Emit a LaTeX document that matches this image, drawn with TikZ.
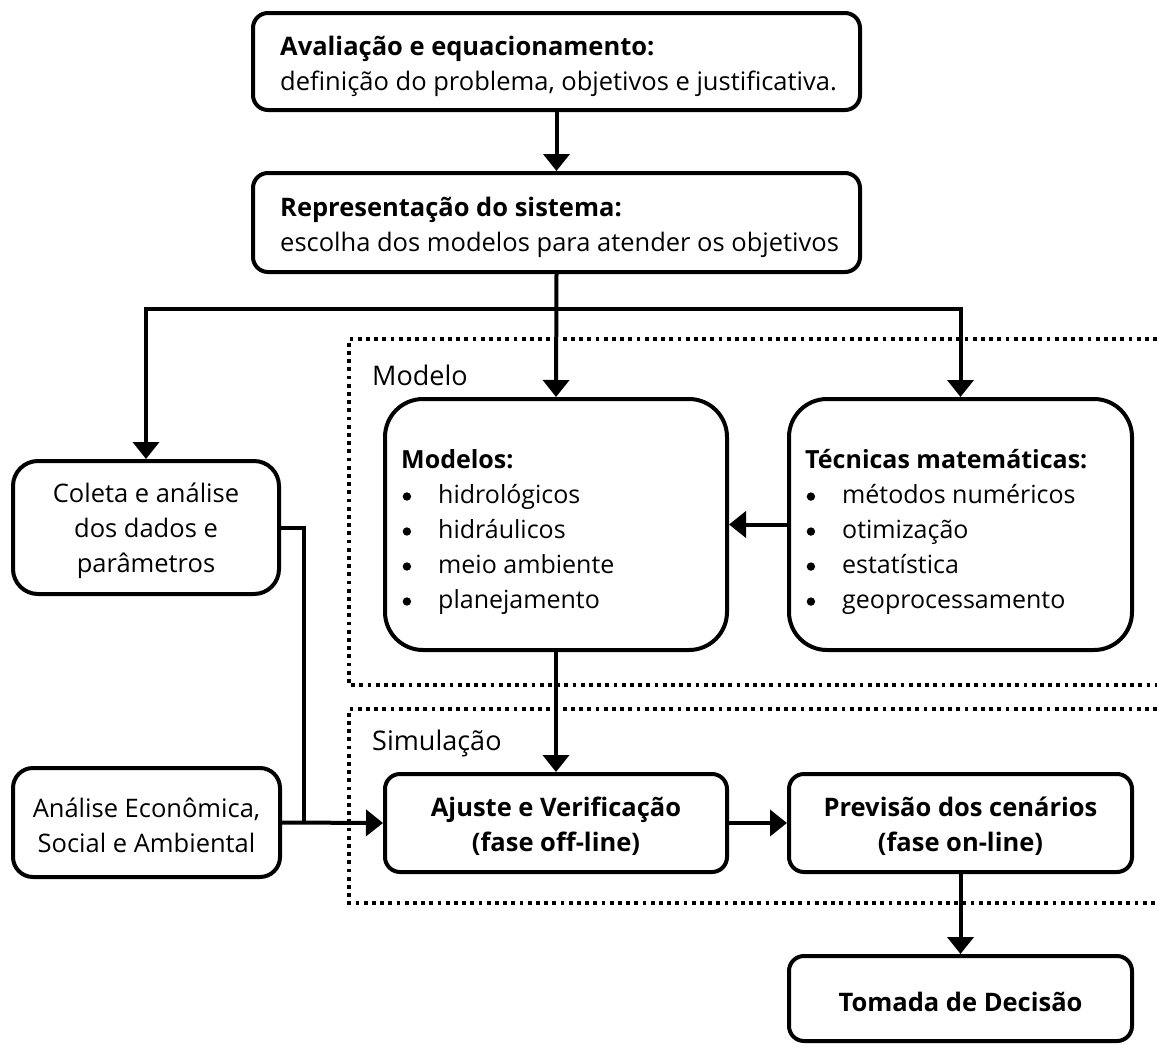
\documentclass[tikz,border=0pt]{standalone}
\usepackage{fontspec}
\setmainfont{Open Sans}
\usetikzlibrary{arrows.meta}
\newcommand{\blt}{\makebox[37pt][l]{\hspace{1.5pt}\tikz[baseline=-7pt]\fill (0,0) circle (4.2pt);}}
\begin{document}
\begin{tikzpicture}[x=1pt,y=-1pt,
  font=\fontsize{25.5}{35}\selectfont,
  box/.style={draw, line width=4pt, rounded corners=15pt, inner sep=0pt},
  bigbox/.style={draw, line width=4pt, rounded corners=38pt, inner sep=0pt},
  conn/.style={line width=4pt},
  arr/.style={conn, -{Triangle[width=26pt,length=17pt]}},
  frame/.style={line width=3.8pt, dash pattern=on 3.8pt off 4.4pt},
  lbl/.style={anchor=west, inner sep=0pt, font=\fontsize{27}{32}\selectfont},
  txt/.style={inner sep=0pt, align=center},
  btxt/.style={txt, font=\fontsize{25.5}{35}\selectfont\bfseries},
  ltxt/.style={anchor=west, inner sep=0pt, align=left},
  listtxt/.style={ltxt, font=\fontsize{25}{35}\selectfont}]
\useasboundingbox (0,0) rectangle (1157,1044);

% dotted frames
\draw[frame] (1157,339) -- (349,339) -- (349,685) -- (1157,685);
\draw[frame] (1157,709) -- (349,709) -- (349,903) -- (1157,903);
\node[lbl] (lmodelo) at (372,375) {Modelo};
\node[lbl] (lsim) at (372,743) {Simulação};

% top boxes
\node[box, minimum width=607pt, minimum height=97pt] (b1) at (556.5,61.5) {};
\node[ltxt] (b1t) at (280,66.5)
  {\textbf{Avaliação e equacionamento:}\\definição do problema, objetivos e justificativa.};
\node[box, minimum width=607pt, minimum height=99pt] (b2) at (556.5,222.5) {};
\node[ltxt] (b2t) at (280,227.5)
  {\textbf{Representação do sistema:}\\escolha dos modelos para atender os objetivos};

% model boxes
\node[bigbox, minimum width=342pt, minimum height=251pt] (modelos) at (556,524.5) {};
\node[listtxt] (modelostxt) at (401,532)
  {\textbf{Modelos:}\\
   \blt hidrológicos\\
   \blt hidráulicos\\
   \blt meio ambiente\\
   \blt planejamento};
\node[bigbox, minimum width=343pt, minimum height=251pt] (tec) at (960.5,524.5) {};
\node[listtxt] (tectxt) at (805,532)
  {\textbf{Técnicas matemáticas:}\\
   \blt métodos numéricos\\
   \blt otimização\\
   \blt estatística\\
   \blt geoprocessamento};

% left boxes
\node[box, rounded corners=25pt, minimum width=266pt, minimum height=133pt] (coleta) at (146,527.5) {};
\node[txt] (coletat) at (146,531) {Coleta e análise\\dos dados e\\parâmetros};
\node[box, rounded corners=20pt, minimum width=267pt, minimum height=109pt] (analise) at (146.5,822.5) {};
\node[txt] (analiset) at (146.5,825.5) {Análise Econômica,\\Social e Ambiental};

% simulation boxes
\node[box, minimum width=342pt, minimum height=98pt] (ajuste) at (556,823) {};
\node[btxt] (ajustet) at (556,826.5) {Ajuste e Verificação\\(fase off-line)};
\node[box, minimum width=343pt, minimum height=98pt] (prev) at (960.5,823) {};
\node[btxt] (prevt) at (960.5,826.5) {Previsão dos cenários\\(fase on-line)};
\node[box, minimum width=343pt, minimum height=85pt] (tomada) at (960.5,998.5) {};
\node[btxt] (tomadat) at (960.5,1002) {Tomada de Decisão};

% connectors
\coordinate (br) at (556,309);
\coordinate (jn) at (304,822.5);
\draw[arr] (b1.south) -- (b2.north);
\draw[arr] (b2.south) -- (modelos.north);
\draw[arr] (br) -| (coleta.north);
\draw[arr] (br) -| (tec.north);
\draw[arr] (tec.west) -- (modelos.east);
\draw[conn] (coleta.east) -| (jn);
\draw[arr] (analise.east) -- (ajuste.west);
\draw[arr] (modelos.south) -- (ajuste.north);
\draw[arr] (ajuste.east) -- (prev.west);
\draw[arr] (prev.south) -- (tomada.north);
\end{tikzpicture}
\end{document}
